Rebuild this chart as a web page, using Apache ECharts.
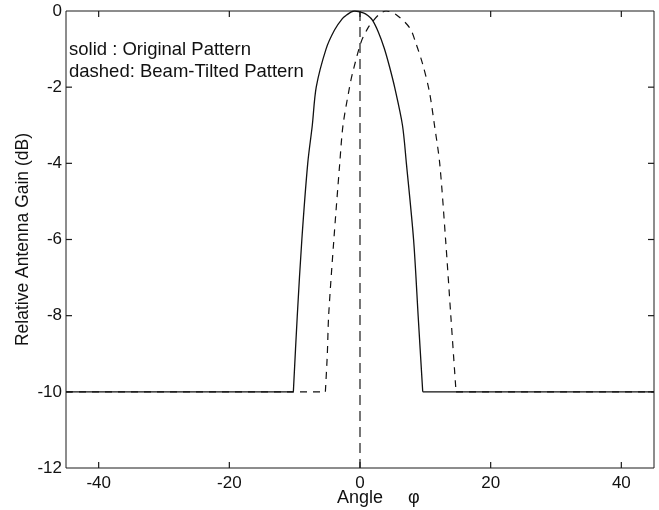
<!DOCTYPE html>
<html><head><meta charset="utf-8">
<script src="https://cdn.jsdelivr.net/npm/echarts@6/dist/echarts.min.js"></script>
<style>html,body{margin:0;padding:0;background:#fff}#c{width:659px;height:510px}</style>
</head><body><div id="c"></div>
<script>
var xTicks = [-40, -20, 0, 20, 40];
var yTicks = [-2, -4, -6, -8, -10];
var solidX = [-45, -10.2, -9.6, -8.9, -8.0, -7.3, -6.7, -5.2, -3.9, -2.7, -2.0, -1.4, -0.8, 0.5, 1.2, 1.9, 2.8, 3.7, 4.5, 5.3, 6.5, 7.1, 8.2, 8.9, 9.6, 45];
var solidY = [-10, -10, -8, -6, -4, -3, -2, -1, -0.5, -0.2, -0.1, -0.03, 0, -0.05, -0.12, -0.24, -0.55, -0.97, -1.45, -2, -3, -4, -6, -8, -10, -10];
var dashedX = [-45, -5.3, -5.0, -4.8, -4.0, -3.1, -2.6, -1.6, -1.1, 0.2, 1.2, 2.0, 3.0, 4.0, 5.5, 7.6, 8.6, 9.6, 10.6, 11.4, 12.2, 13.1, 13.9, 14.7, 45];
var dashedY = [-10, -10, -9, -8, -6, -4, -3, -2, -1.6, -0.8, -0.45, -0.26, -0.08, 0, -0.09, -0.44, -0.87, -1.4, -2.1, -3, -4, -6, -8, -10, -10];
var vlineX = [0, 0];
var vlineY = [0, -12];
var legendLines = ['solid : Original Pattern', 'dashed: Beam-Tilted Pattern'];
var xName = 'Angle     \u03c6';
var yName = 'Relative Antenna Gain (dB)';

function pairs(xs, ys) { return xs.map(function (x, i) { return [x, ys[i]]; }); }
function pieces(xs, ys) {
  var n = xs.length;
  return {
    left: pairs(xs.slice(0, 2), ys.slice(0, 2)),
    mid: pairs(xs.slice(1, n - 1), ys.slice(1, n - 1)),
    right: pairs(xs.slice(n - 2), ys.slice(n - 2))
  };
}
var FONT = 'Liberation Sans, Arial, Helvetica, sans-serif';
var INK = '#111';
var AX = '#1a1a1a';
var TL = 6;
var X_MIN = -45, X_MAX = 45, Y_MIN = -12, Y_MAX = 0;
var chart = echarts.init(document.getElementById('c'));
var sp = pieces(solidX, solidY);
var dp = pieces(dashedX, dashedY);
function lineSeries(data, style, smooth) {
  return { type: 'line', data: data, symbol: 'none', smooth: smooth || false,
    xAxisIndex: 0, yAxisIndex: 0, lineStyle: style, z: 3 };
}
var solidStyle = { color: INK, width: 1.3, type: 'solid' };
var dashStyle = { color: INK, width: 1.2, type: [7, 6] };
var tickStroke = { stroke: AX, lineWidth: 1.2 };

// inward tick marks on all four sides, placed through the axes' scales
function xTickItem(params, api) {
  var a = api.coord([api.value(0), Y_MIN]);
  var b = api.coord([api.value(0), Y_MAX]);
  return { type: 'group', children: [
    { type: 'line', shape: { x1: a[0], y1: a[1], x2: a[0], y2: a[1] - TL }, style: tickStroke },
    { type: 'line', shape: { x1: b[0], y1: b[1], x2: b[0], y2: b[1] + TL }, style: tickStroke }
  ] };
}
function yTickItem(params, api) {
  var a = api.coord([X_MIN, api.value(1)]);
  var b = api.coord([X_MAX, api.value(1)]);
  return { type: 'group', children: [
    { type: 'line', shape: { x1: a[0], y1: a[1], x2: a[0] + TL, y2: a[1] }, style: tickStroke },
    { type: 'line', shape: { x1: b[0], y1: b[1], x2: b[0] - TL, y2: b[1] }, style: tickStroke }
  ] };
}

chart.setOption({
  animation: false,
  grid: { left: 66, right: 5, top: 11, bottom: 42, containLabel: false,
    show: true, borderColor: AX, borderWidth: 1, backgroundColor: 'transparent' },
  xAxis: {
    type: 'value', min: X_MIN, max: X_MAX,
    splitLine: { show: false },
    axisLine: { show: false, onZero: false },
    axisTick: { show: false },
    axisLabel: { show: true, color: INK, fontSize: 17, fontFamily: FONT, margin: 7, customValues: xTicks }
  },
  yAxis: {
    type: 'value', min: Y_MIN, max: Y_MAX, interval: 2,
    splitLine: { show: false },
    axisLine: { show: false, onZero: false },
    axisTick: { show: false },
    axisLabel: { show: true, color: INK, fontSize: 17, fontFamily: FONT, margin: 4 },
    name: yName, nameLocation: 'middle', nameGap: 34, nameMoveOverlap: false,
    nameTextStyle: { color: INK, fontSize: 17.5, fontFamily: FONT }
  },
  graphic: [
    { type: 'text', left: 69, top: 40, style: { text: legendLines[0], fill: INK, font: '18.5px ' + FONT } },
    { type: 'text', left: 69, top: 62, style: { text: legendLines[1], fill: INK, font: '18.5px ' + FONT } },
    { type: 'text', left: 337, top: 489, style: { text: xName, fill: INK, font: '18px ' + FONT } }
  ],
  series: [
    { type: 'custom', data: xTicks.map(function (v) { return [v, Y_MIN]; }), renderItem: xTickItem,
      clip: false, silent: true, z: 4 },
    { type: 'custom', data: yTicks.map(function (v) { return [X_MIN, v]; }), renderItem: yTickItem,
      clip: false, silent: true, z: 4 },
    lineSeries(pairs(vlineX, vlineY), { color: AX, width: 1.2, type: [10, 6] }),
    lineSeries(sp.left, solidStyle),
    lineSeries(sp.mid, solidStyle, 0.3),
    lineSeries(sp.right, solidStyle),
    lineSeries(dp.left, dashStyle),
    lineSeries(dp.mid, dashStyle, 0.3),
    lineSeries(dp.right, dashStyle)
  ]
});
</script></body></html>
